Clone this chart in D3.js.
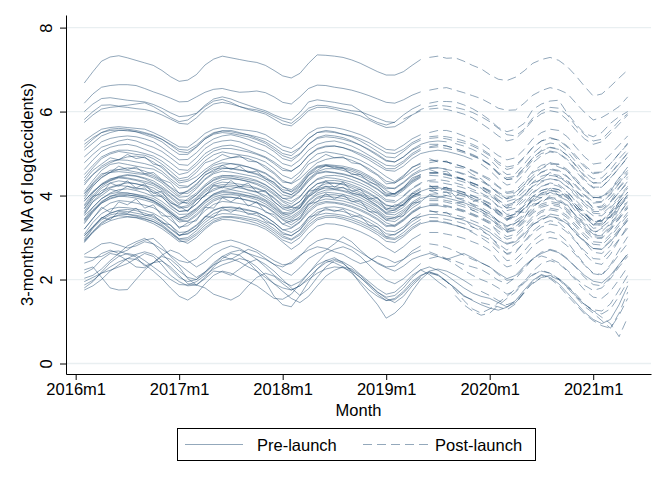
<!DOCTYPE html>
<html><head><meta charset="utf-8">
<script src="https://cdn.jsdelivr.net/npm/d3@7"></script>
<style>body{margin:0;background:#fff;} text{font-family:"Liberation Sans",Arial,sans-serif;}</style>
</head><body><svg id="c" width="664" height="483"></svg>
<script>
// months: first value = 2016m2, 64 monthly values to 2021m5
const firstMonth = "2016m2";
const xTickLabels = ["2016m1","2017m1","2018m1","2019m1","2020m1","2021m1"];
const yTickValues = [0,2,4,6,8];
const legendLabels = ["Pre-launch","Post-launch"];
const xTitle = "Month";
const yTitle = "3-months MA of log(accidents)";

const topSeries = [
 [6.68,6.95,7.20,7.30,7.33,7.28,7.22,7.16,7.10,6.98,6.83,6.72, 6.75,6.88,7.11,7.25,7.32,7.28,7.24,7.20,7.17,7.10,6.98,6.85, 6.80,6.91,7.15,7.35,7.34,7.32,7.29,7.23,7.15,7.05,6.95,6.87, 6.87,6.95,7.10,7.24,7.29,7.32,7.27,7.28,7.20,7.10,7.02,6.88, 6.77,6.74,6.82,6.97,7.15,7.24,7.29,7.22,7.07,6.85,6.60,6.37, 6.42,6.60,6.80,6.99]
];
const topLaunch = ["2019m6"];

const highSeries = [
 [6.20,6.42,6.58,6.62,6.64,6.64,6.62,6.55,6.47,6.40,6.32,6.23, 6.24,6.35,6.46,6.53,6.55,6.50,6.46,6.47,6.49,6.45,6.35,6.22, 6.18,6.35,6.55,6.63,6.62,6.58,6.55,6.51,6.45,6.38,6.30,6.22, 6.20,6.28,6.39,6.47,6.51,6.55,6.57,6.51,6.45,6.38,6.31,6.20, 6.08,6.03,6.04,6.20,6.39,6.50,6.57,6.52,6.43,6.20,5.98,5.80, 5.86,5.98,6.12,6.35],
 [6.00,6.18,6.31,6.33,6.30,6.27,6.25,6.23,6.17,6.08,5.97,5.88, 5.90,5.96,6.15,6.30,6.35,6.30,6.22,6.15,6.08,6.02,5.92,5.84, 5.80,5.98,6.23,6.28,6.25,6.22,6.18,6.15,6.02,5.84,5.74,5.68, 5.75,5.92,6.06,6.16,6.20,6.24,6.24,6.23,6.16,6.07,5.95,5.80, 5.62,5.52,5.58,5.72,6.05,6.18,6.25,6.27,5.96,5.70,5.48,5.40, 5.50,5.72,5.88,6.00],
 [5.81,6.00,6.15,6.16,6.13,6.15,6.18,6.21,6.12,6.00,5.86,5.76, 5.80,5.95,6.12,6.25,6.29,6.22,6.12,6.07,6.04,5.98,5.88,5.78, 5.72,5.88,6.08,6.15,6.14,6.10,6.06,6.02,6.00,5.92,5.84,5.76, 5.74,5.82,5.92,6.05,6.12,6.15,6.13,6.10,6.05,5.98,5.88,5.76, 5.60,5.45,5.42,5.58,5.85,6.02,6.10,6.08,5.92,5.65,5.45,5.30, 5.34,5.55,5.78,5.95],
 [5.74,5.92,6.06,6.10,6.12,6.10,6.07,6.05,6.00,5.92,5.82,5.72, 5.70,5.85,6.05,6.18,6.22,6.18,6.12,6.05,6.00,5.94,5.82,5.70, 5.66,5.82,6.02,6.10,6.10,6.06,6.00,5.96,5.90,5.80,5.70,5.62, 5.64,5.76,5.92,6.02,6.06,6.08,6.05,6.00,5.94,5.85,5.72,5.58, 5.42,5.30,5.35,5.55,5.80,5.95,6.02,5.98,5.80,5.55,5.35,5.22, 5.28,5.48,5.70,5.92]
];
const highLaunch = ["2019m6","2019m6","2019m3","2019m6"];

const upperSeries = [
 [5.30,5.45,5.58,5.62,5.64,5.62,5.60,5.58,5.50,5.40,5.28,5.16, 5.15,5.30,5.48,5.58,5.62,5.60,5.57,5.55,5.52,5.45,5.32,5.18, 5.12,5.28,5.48,5.60,5.63,5.62,5.58,5.52,5.45,5.35,5.22,5.10, 5.08,5.20,5.35,5.45,5.50,5.55,5.55,5.50,5.42,5.35,5.25,5.10, 4.95,4.85,4.90,5.10,5.35,5.50,5.58,5.55,5.40,5.15,4.92,4.75, 4.78,4.98,5.20,5.42],
 [5.08,5.25,5.42,5.50,5.55,5.56,5.52,5.45,5.38,5.28,5.12,4.98, 4.98,5.15,5.35,5.48,5.54,5.55,5.50,5.44,5.36,5.28,5.15,5.00, 4.95,5.12,5.35,5.50,5.55,5.52,5.46,5.40,5.30,5.18,5.05,4.92, 4.90,5.05,5.22,5.32,5.36,5.38,5.35,5.30,5.25,5.18,5.08,4.95, 4.75,4.62,4.68,4.90,5.15,5.30,5.38,5.32,5.15,4.90,4.68,4.52, 4.55,4.75,5.00,5.22],
 [4.92,5.10,5.28,5.36,5.40,5.42,5.40,5.35,5.28,5.15,5.00,4.85, 4.86,5.02,5.22,5.35,5.42,5.45,5.40,5.34,5.26,5.18,5.05,4.88, 4.82,4.98,5.22,5.38,5.44,5.42,5.38,5.30,5.20,5.08,4.95,4.82, 4.80,4.92,5.10,5.22,5.28,5.30,5.28,5.24,5.18,5.10,5.00,4.86, 4.65,4.50,4.52,4.75,5.00,5.18,5.25,5.22,5.05,4.80,4.55,4.40, 4.42,4.62,4.88,5.10],
 [4.78,4.98,5.15,5.22,5.30,5.34,5.30,5.22,5.15,5.05,4.90,4.74, 4.72,4.90,5.12,5.25,5.30,5.32,5.28,5.20,5.12,5.05,4.92,4.76, 4.70,4.85,5.08,5.22,5.28,5.30,5.25,5.18,5.08,4.96,4.84,4.72, 4.70,4.82,5.00,5.12,5.16,5.20,5.18,5.12,5.05,4.98,4.88,4.74, 4.52,4.38,4.42,4.65,4.90,5.08,5.15,5.12,4.95,4.70,4.45,4.30, 4.32,4.52,4.78,5.00],
 [4.62,4.85,5.05,5.15,5.20,5.22,5.18,5.10,5.02,4.92,4.78,4.62, 4.60,4.78,5.00,5.12,5.18,5.20,5.15,5.08,5.00,4.92,4.80,4.65, 4.58,4.72,4.95,5.10,5.16,5.18,5.14,5.06,4.96,4.85,4.72,4.60, 4.58,4.70,4.88,5.00,5.05,5.08,5.05,5.00,4.94,4.86,4.75,4.60, 4.40,4.25,4.30,4.52,4.78,4.95,5.04,5.00,4.84,4.58,4.34,4.18, 4.20,4.42,4.66,4.90],
 [5.22,5.38,5.50,5.55,5.56,5.54,5.52,5.48,5.42,5.34,5.22,5.10, 5.08,5.20,5.38,5.50,5.54,5.52,5.48,5.45,5.40,5.34,5.22,5.08, 5.02,5.14,5.36,5.50,5.52,5.50,5.46,5.42,5.35,5.26,5.14,5.02, 5.00,5.10,5.26,5.36,5.40,5.42,5.40,5.36,5.30,5.22,5.12,4.98, 4.80,4.68,4.72,4.92,5.15,5.30,5.36,5.32,5.18,4.95,4.72,4.55, 4.56,4.76,5.00,5.25],
 [5.15,5.34,5.50,5.58,5.60,5.58,5.55,5.50,5.44,5.34,5.20,5.05, 5.02,5.16,5.35,5.46,5.50,5.48,5.44,5.40,5.33,5.24,5.10,4.95, 4.88,5.00,5.22,5.36,5.40,5.38,5.34,5.28,5.20,5.10,4.98,4.84, 4.80,4.92,5.08,5.18,5.22,5.22,5.18,5.12,5.05,4.96,4.86,4.72, 4.52,4.38,4.40,4.60,4.85,5.00,5.06,5.02,4.86,4.62,4.38,4.20, 4.20,4.40,4.66,4.92],
 [4.50,4.72,4.92,5.02,5.08,5.08,5.05,5.00,4.94,4.82,4.66,4.50, 4.55,4.72,4.92,5.06,5.12,5.12,5.08,5.04,4.98,4.90,4.76,4.60, 4.58,4.72,4.96,5.12,5.18,5.18,5.14,5.08,5.00,4.90,4.78,4.64, 4.64,4.78,4.96,5.08,5.14,5.16,5.12,5.08,5.02,4.94,4.86,4.74, 4.55,4.42,4.46,4.66,4.90,5.06,5.14,5.10,4.96,4.72,4.48,4.30, 4.30,4.50,4.76,5.02]
];
const upperLaunch = ["2019m6","2019m6","2019m9","2019m6","2019m12","2019m6","2019m6","2019m6"];

const midSeries = [
 [4.42,4.66,4.88,4.99,5.05,5.02,4.98,4.96,4.88,4.75,4.58,4.40, 4.44,4.62,4.83,4.97,5.04,5.00,4.97,4.94,4.88,4.80,4.65,4.48, 4.40,4.56,4.82,4.99,5.04,5.01,4.97,4.92,4.84,4.73,4.60,4.45, 4.33,4.48,4.66,4.78,4.83,4.84,4.80,4.74,4.68,4.60,4.50,4.40, 4.22,4.08,4.12,4.33,4.58,4.72,4.78,4.74,4.58,4.35,4.12,3.95, 3.96,4.15,4.42,4.68],
 [4.30,4.50,4.66,4.78,4.86,4.92,4.94,4.90,4.80,4.66,4.48,4.30, 4.34,4.45,4.62,4.76,4.85,4.90,4.92,4.88,4.80,4.70,4.55,4.36, 4.28,4.40,4.60,4.78,4.86,4.90,4.90,4.84,4.75,4.64,4.50,4.34, 4.30,4.42,4.58,4.70,4.78,4.82,4.80,4.75,4.68,4.58,4.48,4.36, 4.20,4.05,4.08,4.26,4.48,4.64,4.74,4.75,4.62,4.40,4.16,3.96, 3.94,4.10,4.36,4.60],
 [4.25,4.50,4.70,4.82,4.85,4.84,4.80,4.76,4.70,4.58,4.40,4.24, 4.22,4.36,4.56,4.72,4.78,4.76,4.72,4.68,4.62,4.54,4.40,4.22, 4.08,4.22,4.48,4.66,4.70,4.68,4.64,4.58,4.50,4.40,4.28,4.12, 4.02,4.15,4.33,4.45,4.52,4.53,4.49,4.44,4.37,4.29,4.20,4.08, 3.84,3.70,3.74,3.95,4.16,4.32,4.40,4.36,4.20,3.98,3.76,3.58, 3.56,3.74,3.98,4.22],
 [4.10,4.36,4.60,4.74,4.78,4.74,4.70,4.66,4.63,4.52,4.35,4.18, 4.20,4.36,4.55,4.66,4.72,4.76,4.74,4.68,4.60,4.52,4.38,4.20, 4.14,4.30,4.55,4.70,4.74,4.72,4.70,4.65,4.58,4.47,4.34,4.20, 4.16,4.30,4.47,4.58,4.64,4.66,4.63,4.57,4.50,4.42,4.34,4.22, 4.05,3.92,3.98,4.18,4.40,4.55,4.62,4.58,4.44,4.22,4.00,3.82, 3.84,4.02,4.28,4.52],
 [3.98,4.28,4.48,4.60,4.62,4.60,4.56,4.52,4.46,4.34,4.18,4.00, 4.12,4.28,4.48,4.62,4.66,4.64,4.60,4.58,4.52,4.44,4.30,4.14, 4.10,4.26,4.52,4.68,4.72,4.70,4.66,4.62,4.54,4.44,4.30,4.16, 4.18,4.32,4.50,4.62,4.66,4.66,4.62,4.58,4.52,4.44,4.36,4.24, 4.08,3.96,4.00,4.20,4.42,4.56,4.64,4.60,4.46,4.25,4.02,3.85, 3.86,4.05,4.30,4.55],
 [4.04,4.24,4.42,4.55,4.62,4.66,4.64,4.58,4.50,4.36,4.20,4.06, 4.05,4.20,4.40,4.55,4.64,4.65,4.62,4.56,4.50,4.40,4.26,4.10, 4.02,4.15,4.40,4.57,4.64,4.64,4.60,4.53,4.45,4.35,4.22,4.06, 4.04,4.17,4.35,4.47,4.54,4.55,4.52,4.46,4.39,4.30,4.22,4.10, 3.90,3.75,3.80,4.00,4.24,4.40,4.48,4.45,4.30,4.06,3.82,3.62, 3.62,3.82,4.08,4.34],
 [3.92,4.22,4.44,4.55,4.57,4.55,4.52,4.50,4.42,4.30,4.12,3.96, 3.98,4.16,4.38,4.52,4.58,4.56,4.52,4.48,4.44,4.35,4.20,4.02, 3.96,4.12,4.38,4.54,4.58,4.55,4.52,4.46,4.38,4.28,4.16,4.00, 3.98,4.12,4.30,4.43,4.48,4.47,4.43,4.38,4.32,4.24,4.15,4.04, 3.88,3.78,3.84,4.02,4.22,4.35,4.40,4.36,4.22,4.02,3.82,3.66, 3.66,3.84,4.08,4.30],
 [3.75,4.00,4.22,4.35,4.42,4.40,4.36,4.30,4.24,4.12,3.95,3.78, 3.92,4.06,4.26,4.42,4.48,4.46,4.42,4.38,4.34,4.25,4.10,3.93, 3.94,4.10,4.34,4.52,4.56,4.54,4.50,4.45,4.37,4.26,4.14,3.98, 4.05,4.20,4.38,4.50,4.55,4.54,4.50,4.45,4.38,4.30,4.22,4.12, 3.98,3.86,3.92,4.10,4.32,4.46,4.52,4.48,4.34,4.12,3.90,3.72, 3.75,3.95,4.20,4.45],
 [3.88,4.08,4.26,4.38,4.46,4.50,4.47,4.42,4.35,4.22,4.06,3.90, 3.88,4.02,4.22,4.38,4.46,4.48,4.46,4.42,4.36,4.26,4.12,3.94, 3.86,3.98,4.22,4.40,4.47,4.48,4.45,4.38,4.30,4.20,4.06,3.90, 3.88,4.00,4.18,4.30,4.36,4.38,4.35,4.30,4.24,4.15,4.06,3.95, 3.72,3.55,3.58,3.80,4.05,4.22,4.30,4.26,4.10,3.85,3.60,3.40, 3.40,3.62,3.90,4.18],
 [3.78,4.06,4.28,4.40,4.44,4.42,4.38,4.34,4.28,4.16,3.98,3.82, 3.84,4.02,4.22,4.36,4.43,4.42,4.38,4.34,4.29,4.20,4.05,3.88, 3.80,3.96,4.22,4.38,4.43,4.41,4.37,4.32,4.24,4.14,4.01,3.86, 3.84,3.98,4.16,4.28,4.33,4.32,4.28,4.24,4.18,4.10,4.02,3.92, 3.75,3.64,3.70,3.88,4.08,4.22,4.28,4.22,4.08,3.88,3.68,3.52, 3.52,3.70,3.94,4.18],
 [3.86,4.10,4.26,4.36,4.44,4.48,4.46,4.40,4.30,4.18,4.04,3.88, 3.80,3.95,4.15,4.30,4.38,4.40,4.38,4.33,4.26,4.16,4.02,3.85, 3.74,3.86,4.10,4.28,4.35,4.36,4.33,4.26,4.18,4.07,3.94,3.78, 3.72,3.85,4.03,4.15,4.21,4.22,4.18,4.13,4.07,3.99,3.90,3.80, 3.58,3.45,3.52,3.70,3.92,4.06,4.12,4.08,3.94,3.72,3.50,3.32, 3.34,3.52,3.78,4.00],
 [3.68,3.96,4.18,4.30,4.35,4.32,4.28,4.24,4.18,4.06,3.88,3.72, 3.76,3.92,4.12,4.26,4.32,4.30,4.27,4.24,4.18,4.10,3.95,3.78, 3.72,3.86,4.12,4.28,4.32,4.30,4.28,4.22,4.14,4.04,3.92,3.76, 3.74,3.88,4.06,4.18,4.22,4.22,4.18,4.14,4.08,4.00,3.92,3.82, 3.64,3.50,3.56,3.76,3.98,4.12,4.18,4.14,4.00,3.78,3.56,3.38, 3.38,3.58,3.84,4.08],
 [3.62,3.92,4.12,4.20,4.26,4.30,4.28,4.22,4.12,4.00,3.84,3.70, 3.72,3.88,4.08,4.22,4.26,4.25,4.22,4.20,4.16,4.08,3.93,3.74, 3.66,3.78,4.02,4.20,4.28,4.29,4.26,4.18,4.08,3.98,3.86,3.70, 3.68,3.80,3.98,4.10,4.17,4.19,4.15,4.10,4.03,3.95,3.86,3.75, 3.56,3.42,3.48,3.68,3.90,4.05,4.12,4.10,3.96,3.72,3.50,3.30, 3.30,3.50,3.76,4.02],
 [3.58,3.86,4.06,4.18,4.24,4.22,4.18,4.14,4.08,3.96,3.78,3.62, 3.64,3.80,4.02,4.16,4.22,4.21,4.18,4.14,4.09,4.00,3.86,3.68, 3.62,3.76,4.00,4.16,4.22,4.21,4.18,4.12,4.04,3.94,3.82,3.66, 3.64,3.78,3.96,4.08,4.12,4.12,4.08,4.04,3.98,3.90,3.82,3.72, 3.55,3.44,3.50,3.68,3.88,4.02,4.06,4.02,3.88,3.68,3.48,3.30, 3.30,3.48,3.72,3.96],
 [3.42,3.66,3.86,3.98,4.02,4.02,3.98,3.94,3.88,3.76,3.60,3.44, 3.54,3.68,3.88,4.03,4.10,4.08,4.05,4.00,3.96,3.88,3.72,3.56, 3.56,3.70,3.96,4.13,4.18,4.16,4.12,4.07,4.00,3.90,3.76,3.60, 3.66,3.80,3.98,4.10,4.16,4.17,4.13,4.08,4.02,3.94,3.85,3.74, 3.62,3.50,3.56,3.76,3.98,4.12,4.18,4.14,4.00,3.78,3.56,3.40, 3.40,3.58,3.84,4.08],
 [3.52,3.72,3.92,4.06,4.14,4.16,4.12,4.06,3.98,3.86,3.70,3.55, 3.56,3.70,3.88,4.04,4.12,4.14,4.10,4.06,4.00,3.90,3.76,3.58, 3.50,3.64,3.88,4.06,4.13,4.14,4.10,4.03,3.95,3.84,3.72,3.56, 3.54,3.66,3.84,3.97,4.03,4.04,4.00,3.95,3.88,3.80,3.72,3.60, 3.38,3.20,3.25,3.48,3.72,3.88,3.96,3.92,3.76,3.52,3.28,3.08, 3.06,3.28,3.56,3.84],
 [3.44,3.72,3.93,4.04,4.08,4.06,4.03,3.99,3.93,3.80,3.63,3.47, 3.50,3.66,3.86,4.01,4.07,4.06,4.03,3.99,3.94,3.85,3.70,3.53, 3.46,3.60,3.86,4.02,4.08,4.06,4.03,3.97,3.89,3.79,3.66,3.50, 3.48,3.62,3.80,3.93,3.98,3.98,3.94,3.89,3.83,3.75,3.66,3.56, 3.40,3.28,3.34,3.52,3.74,3.88,3.93,3.88,3.74,3.52,3.32,3.15, 3.14,3.34,3.58,3.84],
 [3.36,3.62,3.84,3.98,4.05,4.06,4.02,3.96,3.88,3.75,3.58,3.42, 3.46,3.62,3.82,3.96,4.02,4.03,4.00,3.96,3.90,3.80,3.66,3.48, 3.42,3.56,3.80,3.96,4.02,4.02,3.98,3.92,3.84,3.74,3.62,3.46, 3.44,3.58,3.76,3.88,3.92,3.92,3.88,3.84,3.78,3.70,3.62,3.50, 3.32,3.18,3.24,3.44,3.66,3.80,3.86,3.82,3.68,3.46,3.24,3.06, 3.04,3.24,3.50,3.76],
 [3.33,3.60,3.82,3.94,3.99,3.97,3.94,3.89,3.83,3.71,3.54,3.37, 3.40,3.56,3.76,3.91,3.98,3.96,3.93,3.89,3.84,3.75,3.61,3.44, 3.36,3.50,3.76,3.93,3.98,3.96,3.93,3.87,3.79,3.69,3.57,3.41, 3.38,3.52,3.70,3.83,3.88,3.88,3.84,3.79,3.73,3.65,3.56,3.45, 3.28,3.14,3.20,3.40,3.62,3.76,3.82,3.78,3.64,3.42,3.20,3.02, 3.00,3.20,3.46,3.72],
 [3.40,3.64,3.82,3.92,3.98,4.01,3.99,3.94,3.86,3.73,3.58,3.42, 3.38,3.52,3.72,3.87,3.95,3.96,3.93,3.88,3.82,3.73,3.59,3.42, 3.30,3.44,3.70,3.86,3.92,3.90,3.87,3.81,3.73,3.63,3.51,3.35, 3.28,3.42,3.60,3.72,3.77,3.78,3.74,3.69,3.63,3.55,3.46,3.35, 3.10,2.96,3.02,3.22,3.45,3.60,3.66,3.62,3.47,3.25,3.02,2.84, 2.82,3.02,3.28,3.54],
 [3.20,3.46,3.68,3.82,3.88,3.86,3.82,3.77,3.71,3.59,3.42,3.25, 3.28,3.44,3.64,3.79,3.86,3.84,3.81,3.77,3.72,3.63,3.49,3.32, 3.24,3.38,3.64,3.81,3.86,3.84,3.81,3.75,3.67,3.57,3.45,3.29, 3.26,3.40,3.58,3.71,3.76,3.76,3.72,3.67,3.61,3.53,3.44,3.33, 3.16,3.02,3.08,3.28,3.50,3.64,3.70,3.66,3.52,3.30,3.08,2.90, 2.88,3.08,3.34,3.60],
 [2.98,3.24,3.46,3.58,3.64,3.62,3.58,3.54,3.48,3.36,3.20,3.04, 3.16,3.30,3.50,3.66,3.72,3.71,3.68,3.64,3.60,3.50,3.36,3.18, 3.22,3.36,3.60,3.77,3.83,3.82,3.78,3.72,3.64,3.54,3.42,3.26, 3.30,3.44,3.62,3.75,3.80,3.80,3.76,3.71,3.65,3.57,3.48,3.38, 3.24,3.12,3.18,3.36,3.58,3.72,3.78,3.74,3.60,3.38,3.16,2.98, 2.98,3.18,3.44,3.70],
 [3.08,3.36,3.57,3.68,3.72,3.71,3.68,3.64,3.58,3.46,3.29,3.12, 3.14,3.28,3.48,3.64,3.72,3.73,3.70,3.66,3.60,3.50,3.36,3.19, 3.12,3.24,3.48,3.66,3.72,3.73,3.70,3.63,3.54,3.44,3.32,3.16, 3.14,3.26,3.44,3.57,3.62,3.62,3.58,3.54,3.48,3.40,3.32,3.20, 3.02,2.86,2.92,3.12,3.36,3.50,3.56,3.52,3.38,3.15,2.92,2.74, 2.72,2.94,3.20,3.46],
 [3.04,3.26,3.46,3.58,3.65,3.67,3.64,3.58,3.51,3.39,3.22,3.06, 3.08,3.22,3.42,3.57,3.65,3.66,3.63,3.58,3.52,3.43,3.29,3.12, 3.04,3.18,3.42,3.60,3.66,3.65,3.62,3.55,3.47,3.37,3.25,3.09, 3.06,3.20,3.38,3.50,3.55,3.55,3.52,3.47,3.41,3.33,3.24,3.13, 2.96,2.84,2.90,3.08,3.30,3.44,3.50,3.46,3.32,3.10,2.90,2.74, 2.72,2.90,3.16,3.42],
 [2.94,3.22,3.42,3.54,3.58,3.56,3.53,3.49,3.43,3.31,3.14,2.97, 3.00,3.16,3.36,3.51,3.57,3.56,3.53,3.49,3.44,3.35,3.21,3.04, 2.96,3.10,3.36,3.53,3.58,3.56,3.53,3.47,3.39,3.29,3.17,3.01, 2.98,3.12,3.30,3.43,3.48,3.47,3.43,3.39,3.33,3.25,3.16,3.05, 2.80,2.60,2.64,2.90,3.15,3.32,3.40,3.36,3.18,2.92,2.62,2.40, 2.36,2.60,2.95,3.28],
 [2.88,3.12,3.30,3.40,3.46,3.49,3.47,3.41,3.33,3.21,3.06,2.90, 2.92,3.06,3.24,3.39,3.47,3.48,3.45,3.40,3.34,3.25,3.11,2.94, 2.86,3.00,3.24,3.42,3.48,3.48,3.44,3.37,3.29,3.19,3.07,2.91, 2.88,3.02,3.20,3.33,3.38,3.38,3.34,3.29,3.23,3.15,3.06,2.95, 2.76,2.62,2.68,2.88,3.10,3.25,3.32,3.28,3.12,2.90,2.68,2.50, 2.48,2.70,2.96,3.22],
 [2.92,3.14,3.33,3.46,3.54,3.55,3.51,3.45,3.38,3.26,3.10,2.94, 2.86,3.00,3.20,3.36,3.43,3.42,3.38,3.34,3.29,3.20,3.06,2.89, 2.72,2.86,3.10,3.27,3.33,3.32,3.28,3.22,3.14,3.04,2.92,2.76, 2.64,2.78,2.96,3.08,3.12,3.12,3.08,3.04,2.98,2.90,2.82,2.70, 2.44,2.30,2.36,2.56,2.80,2.94,3.00,2.96,2.80,2.58,2.34,2.14, 2.10,2.32,2.60,2.86],
 [2.90,3.14,3.36,3.48,3.52,3.50,3.48,3.44,3.38,3.28,3.12,2.96, 2.96,3.10,3.30,3.44,3.50,3.50,3.48,3.44,3.40,3.30,3.16,3.00, 2.94,3.06,3.30,3.46,3.52,3.52,3.48,3.42,3.34,3.24,3.12,2.98, 2.95,3.06,3.24,3.36,3.40,3.40,3.36,3.30,3.22,3.12,3.00,2.86, 2.65,2.45,2.48,2.68,2.92,3.08,3.14,3.08,2.90,2.62,2.36,2.15, 2.12,2.35,2.70,3.02],
 [3.70,3.98,4.05,4.30,4.22,4.35,4.18,4.28,4.05,4.10,3.82,3.75, 3.62,3.90,3.98,4.25,4.18,4.36,4.20,4.30,4.08,4.12,3.85,3.70, 3.72,3.70,4.10,4.15,4.35,4.20,4.32,4.10,4.15,3.92,3.95,3.66, 3.78,3.76,4.05,4.02,4.25,4.10,4.20,3.98,4.08,3.85,3.92,3.70, 3.65,3.40,3.62,3.60,3.98,3.95,4.18,4.00,4.05,3.70,3.62,3.30, 3.45,3.48,3.85,3.95],
 [3.20,3.45,3.72,3.60,3.85,3.78,3.92,3.70,3.78,3.52,3.50,3.22, 3.35,3.40,3.72,3.70,3.95,3.85,3.98,3.75,3.85,3.60,3.55,3.32, 3.40,3.45,3.80,3.85,4.05,3.92,4.02,3.85,3.88,3.62,3.60,3.42, 3.48,3.52,3.82,3.85,4.02,3.95,4.00,3.82,3.85,3.65,3.62,3.45, 3.30,3.15,3.35,3.45,3.80,3.82,4.00,3.85,3.78,3.50,3.38,3.10, 3.22,3.30,3.70,3.85],
 [4.05,4.30,4.52,4.55,4.70,4.62,4.68,4.52,4.55,4.38,4.30,4.05, 4.10,4.25,4.50,4.58,4.72,4.62,4.70,4.55,4.58,4.40,4.32,4.08, 4.02,4.20,4.48,4.60,4.72,4.65,4.66,4.50,4.50,4.32,4.25,4.02, 4.05,4.18,4.42,4.50,4.62,4.55,4.58,4.42,4.40,4.25,4.18,4.00, 3.85,3.70,3.88,3.98,4.30,4.38,4.55,4.42,4.38,4.10,3.95,3.70, 3.72,3.85,4.18,4.40],
 [3.05,3.25,3.48,3.42,3.62,3.58,3.70,3.52,3.55,3.35,3.30,3.05, 3.10,3.22,3.50,3.48,3.70,3.60,3.72,3.55,3.58,3.38,3.30,3.08, 3.05,3.18,3.48,3.55,3.70,3.62,3.68,3.50,3.52,3.30,3.25,3.02, 3.08,3.20,3.45,3.50,3.65,3.58,3.60,3.45,3.45,3.25,3.20,3.02, 2.85,2.70,2.85,3.00,3.32,3.40,3.55,3.42,3.35,3.08,2.90,2.65, 2.62,2.80,3.15,3.40],
 [3.55,3.85,4.00,4.15,4.10,4.22,4.15,4.18,4.00,3.98,3.75,3.62, 3.65,3.80,4.02,4.12,4.20,4.15,4.22,4.12,4.08,3.95,3.80,3.60, 3.58,3.72,3.98,4.10,4.22,4.15,4.20,4.05,4.02,3.88,3.75,3.58, 3.60,3.72,3.95,4.02,4.12,4.05,4.08,3.95,3.92,3.78,3.68,3.52, 3.38,3.25,3.40,3.55,3.85,3.95,4.08,3.98,3.88,3.62,3.42,3.22, 3.25,3.40,3.72,3.98],
 [4.35,4.60,4.75,4.90,4.85,4.98,4.88,4.92,4.75,4.70,4.50,4.35, 4.38,4.55,4.78,4.85,4.98,4.90,4.95,4.82,4.80,4.65,4.52,4.32, 4.30,4.48,4.75,4.85,4.98,4.90,4.92,4.78,4.75,4.60,4.48,4.28, 4.30,4.45,4.68,4.75,4.88,4.80,4.82,4.68,4.65,4.50,4.40,4.22, 4.05,3.92,4.08,4.25,4.55,4.65,4.78,4.68,4.60,4.35,4.15,3.95, 3.98,4.10,4.42,4.65]
];
const midLaunch = ["2019m6","2019m6","2019m6","2019m9","2019m6","2019m6","2019m6","2019m6","2019m3","2019m6",
 "2019m6","2019m6","2019m12","2019m6","2019m6","2019m6","2020m6","2019m6","2019m6","2019m6",
 "2019m9","2019m6","2019m6",null,"2019m6","2019m12","2019m6","2019m6",
 "2019m6","2019m9","2019m6","2019m6","2019m6","2019m6"];

const lowSeries = [
 [2.54,2.52,2.55,2.66,2.68,2.60,2.54,2.32,2.40,2.58,2.70,2.62, 2.45,2.30,2.42,2.60,2.72,2.80,2.74,2.62,2.55,2.48,2.36,2.30, 2.42,2.58,2.70,2.78,2.74,2.66,2.60,2.48,2.38,2.44,2.56,2.50, 2.40,2.48,2.62,2.70,2.66,2.58,2.50,2.44,2.36,2.30,2.24,2.12, 1.98,1.90,2.05,2.30,2.48,2.56,2.50,2.40,2.22,2.02,1.86,1.74, 1.80,2.02,2.30,2.55],
 [2.39,2.46,2.62,2.70,2.62,2.70,2.85,2.94,2.98,2.80,2.55,2.36, 2.20,2.05,2.18,2.40,2.55,2.48,2.60,2.72,2.65,2.50,2.36,2.20, 2.10,2.28,2.50,2.62,2.70,2.85,3.02,2.90,2.70,2.52,2.38,2.28, 2.20,2.32,2.48,2.56,2.62,2.55,2.48,2.55,2.62,2.52,2.40,2.30, 2.15,2.02,2.10,2.32,2.50,2.62,2.70,2.64,2.48,2.30,2.10,1.96, 1.92,2.10,2.36,2.60],
 [2.23,2.30,2.05,1.80,1.75,1.76,2.00,2.23,2.40,2.55,2.48,2.30, 2.02,1.87,2.05,2.30,2.50,2.62,2.58,2.42,2.20,1.95,1.60,1.40, 1.35,1.62,1.95,2.25,2.45,2.52,2.40,2.18,1.90,1.65,1.40,1.08, 1.20,1.40,1.72,2.00,2.18,2.12,1.96,1.78,1.60,1.52,1.45,1.40, 1.35,1.28,1.42,1.70,1.96,2.10,2.02,1.86,1.62,1.40,1.18,1.02, 0.90,0.84,1.15,1.55],
 [2.15,2.26,2.48,2.62,2.58,2.45,2.30,2.28,2.40,2.44,2.30,2.10, 1.90,1.87,2.02,2.20,2.18,2.10,2.25,2.40,2.48,2.36,2.20,2.00, 1.80,1.62,1.78,2.05,2.30,2.45,2.38,2.22,2.05,1.88,1.70,1.58, 1.62,1.80,2.05,2.23,2.12,1.95,1.80,1.62,1.40,1.25,1.15,1.20, 1.38,1.55,1.70,1.92,2.10,2.22,2.15,2.00,1.80,1.58,1.36,1.20, 1.02,0.84,1.20,1.70],
 [2.03,2.10,2.25,2.45,2.62,2.80,2.90,2.98,2.85,2.62,2.40,2.20, 2.05,2.00,2.15,2.35,2.55,2.65,2.70,2.62,2.48,2.30,2.10,1.95, 1.85,1.95,2.15,2.40,2.62,2.72,2.78,2.70,2.55,2.35,2.15,1.98, 1.90,2.02,2.20,2.38,2.50,2.55,2.48,2.36,2.22,2.10,2.00,1.92, 1.80,1.65,1.72,1.95,2.20,2.38,2.45,2.38,2.20,1.98,1.75,1.58, 1.55,1.72,2.00,2.30],
 [1.95,2.05,2.15,2.30,2.42,2.50,2.48,2.36,2.20,2.02,1.80,1.60, 1.51,1.65,1.90,2.10,2.20,2.15,2.05,1.95,1.85,1.70,1.55,1.53, 1.65,1.90,2.15,2.35,2.45,2.40,2.30,2.15,1.95,1.75,1.60,1.50, 1.55,1.72,1.95,2.10,2.18,2.10,1.95,1.80,1.62,1.50,1.40,1.32, 1.27,1.34,1.50,1.75,1.98,2.12,2.05,1.90,1.68,1.45,1.22,1.05, 0.95,1.05,1.40,1.85],
 [1.87,1.98,2.15,2.22,2.30,2.38,2.50,2.62,2.55,2.35,2.10,1.95, 1.85,1.87,1.80,1.65,1.58,1.51,1.62,1.85,2.05,2.15,2.08,1.90, 1.75,1.85,2.05,2.25,2.40,2.48,2.42,2.30,2.12,1.95,1.78,1.65, 1.70,1.88,2.10,2.23,2.30,2.22,2.10,1.95,1.80,1.68,1.60,1.55, 1.45,1.35,1.45,1.68,1.90,2.05,2.10,2.02,1.85,1.62,1.40,1.25, 1.18,1.30,1.60,1.95],
 [1.80,1.95,2.18,2.40,2.55,2.62,2.58,2.45,2.30,2.15,2.00,1.88, 1.87,1.95,2.10,2.25,2.35,2.42,2.50,2.45,2.30,2.10,1.90,1.72, 1.55,1.45,1.60,1.85,2.08,2.22,2.30,2.25,2.10,1.90,1.70,1.55, 1.45,1.60,1.85,2.05,2.15,2.10,1.95,1.75,1.50,1.30,1.20,1.30, 1.45,1.60,1.78,1.95,2.12,2.20,2.15,2.02,1.85,1.65,1.42,1.25, 1.10,0.95,0.64,1.10],
 [1.75,1.85,2.00,2.20,2.35,2.50,2.60,2.66,2.60,2.45,2.25,2.05, 1.95,2.00,2.18,2.35,2.45,2.50,2.42,2.30,2.20,2.05,1.90,1.80, 1.75,1.85,2.00,2.15,2.25,2.30,2.28,2.20,2.05,1.85,1.65,1.50, 1.52,1.68,1.90,2.08,2.20,2.25,2.20,2.10,1.98,1.85,1.72,1.62, 1.50,1.40,1.48,1.70,1.92,2.05,2.08,2.00,1.82,1.60,1.40,1.28, 1.25,1.42,1.75,2.10],
 [2.60,2.72,2.85,2.88,2.82,2.75,2.80,2.90,2.85,2.72,2.58,2.45, 2.40,2.50,2.68,2.82,2.90,2.94,2.88,2.80,2.70,2.58,2.45,2.35, 2.38,2.55,2.78,2.92,2.98,2.95,2.88,2.78,2.65,2.52,2.40,2.30, 2.32,2.48,2.68,2.80,2.85,2.82,2.76,2.68,2.58,2.48,2.40,2.30, 2.12,1.98,2.02,2.25,2.50,2.65,2.72,2.66,2.50,2.28,2.05,1.88, 1.85,2.05,2.35,2.62]
];
const lowLaunch = ["2019m6",null,"2019m12","2019m9","2019m6",null,"2020m6","2019m6","2019m12","2019m6"];

// ---- drawing ----
const svg = d3.select("#c");
const monthIndex = s => { const [yy, mm] = s.split("m").map(Number); return (yy - 2016) * 12 + (mm - 1); };
const x = d3.scaleLinear().domain([-1.12, 66.7]).range([66, 651]);
const y = d3.scaleLinear().domain([-0.25, 8.3]).range([374, 15]);
const lineColor = "#1a476f";
const lineOpacity = 0.47;

// gridlines
svg.append("g").selectAll("line").data(yTickValues).join("line")
  .attr("x1", 66).attr("x2", 651).attr("y1", d => y(d)).attr("y2", d => y(d))
  .attr("stroke", "#e9eff1").attr("stroke-width", 1.3);

const groups = [
  [topSeries, topLaunch], [highSeries, highLaunch], [upperSeries, upperLaunch],
  [midSeries, midLaunch], [lowSeries, lowLaunch]
];
const line = d3.line().x(d => x(d.m)).y(d => y(d.v));
const start = monthIndex(firstMonth);
const gLines = svg.append("g");
groups.forEach(([series, launches]) => {
  series.forEach((vals, k) => {
    const pts = vals.map((v, i) => ({ m: start + i, v }));
    const L = launches[k] ? monthIndex(launches[k]) : Infinity;
    const pre = pts.filter(p => p.m < L), post = pts.filter(p => p.m >= L);
    if (pre.length > 1) gLines.append("path").attr("d", line(pre))
      .attr("fill", "none").attr("stroke", lineColor).attr("stroke-opacity", lineOpacity).attr("stroke-width", 1);
    if (post.length > 1) gLines.append("path").attr("d", line(post))
      .attr("fill", "none").attr("stroke", lineColor).attr("stroke-opacity", lineOpacity).attr("stroke-width", 1)
      .attr("stroke-dasharray", "9,5");
  });
});

// axes
const fs = "16.5px";
const ff = '"Liberation Sans",Arial,sans-serif';
const xAxis = d3.axisBottom(x).tickValues(xTickLabels.map(monthIndex))
  .tickFormat((d, i) => xTickLabels[i]).tickSize(6).tickSizeOuter(0).tickPadding(3);
const gx = svg.append("g").attr("transform", "translate(0,374)").call(xAxis);
gx.select(".domain").attr("stroke", "#000");
gx.selectAll(".tick line").attr("stroke", "#000");
gx.selectAll("text").attr("font-size", fs).attr("fill", "#000").attr("font-family", ff);

const yAxis = d3.axisLeft(y).tickValues(yTickValues).tickSize(6).tickSizeOuter(0);
const gy = svg.append("g").attr("transform", "translate(66,0)").call(yAxis);
gy.select(".domain").attr("stroke", "#000");
gy.selectAll(".tick line").attr("stroke", "#000");
gy.selectAll("text").attr("x", null).attr("dy", null).attr("y", 0)
  .attr("text-anchor", "middle").attr("transform", "translate(-14,0) rotate(-90)")
  .attr("font-size", fs).attr("fill", "#000").attr("font-family", ff);

// axis titles
svg.append("text").attr("x", 358.5).attr("y", 416).attr("text-anchor", "middle")
  .attr("font-size", fs).text(xTitle);
svg.append("text").attr("transform", `translate(33,${(15 + 374) / 2}) rotate(-90)`)
  .attr("text-anchor", "middle").attr("font-size", fs).text(yTitle);

// legend
const lg = svg.append("g");
lg.append("rect").attr("x", 177.5).attr("y", 428.5).attr("width", 358).attr("height", 32)
  .attr("fill", "#fff").attr("stroke", "#000").attr("stroke-width", 1);
lg.append("line").attr("x1", 185).attr("x2", 243).attr("y1", 444.5).attr("y2", 444.5)
  .attr("stroke", lineColor).attr("stroke-opacity", lineOpacity).attr("stroke-width", 1);
lg.append("text").attr("x", 257).attr("y", 450.5).attr("font-size", fs).text(legendLabels[0]);
lg.append("line").attr("x1", 363).attr("x2", 428).attr("y1", 444.5).attr("y2", 444.5)
  .attr("stroke", lineColor).attr("stroke-opacity", lineOpacity).attr("stroke-width", 1).attr("stroke-dasharray", "9,5");
lg.append("text").attr("x", 435).attr("y", 450.5).attr("font-size", fs).text(legendLabels[1]);
</script></body></html>
